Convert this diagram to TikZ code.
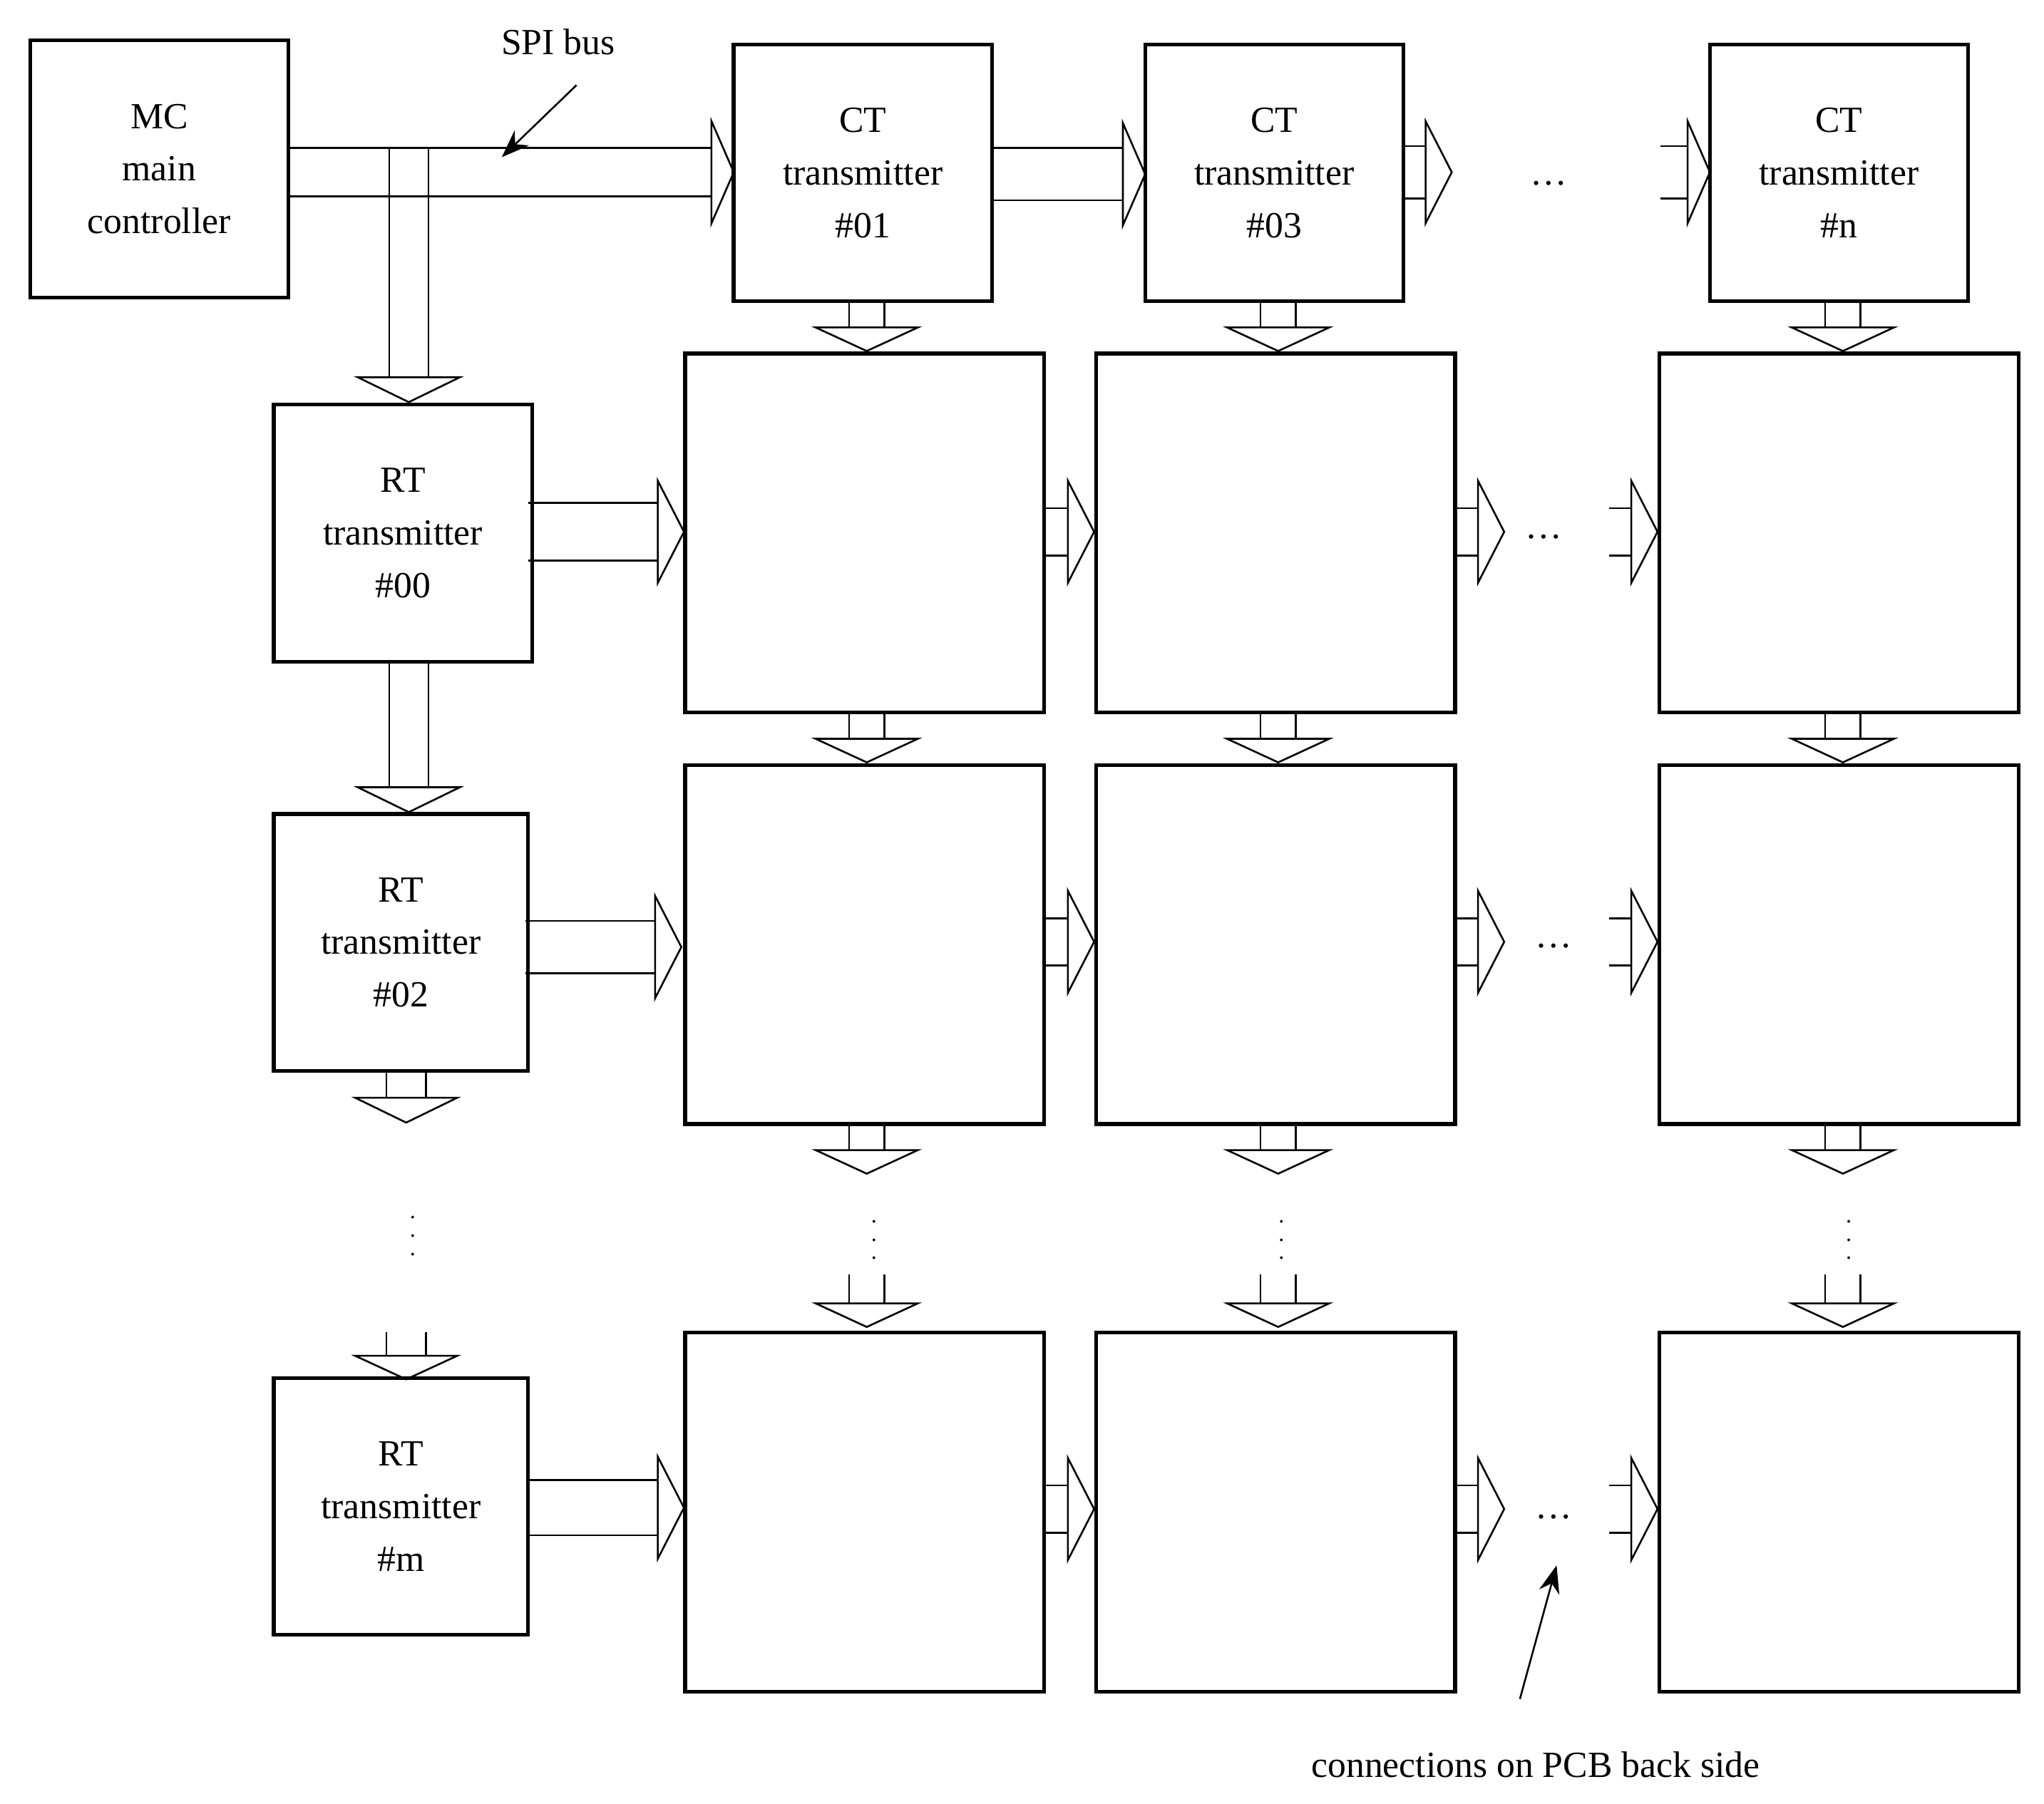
\documentclass[tikz,border=0pt]{standalone}
\usepackage{fontspec}
\setmainfont{Liberation Serif}
\usetikzlibrary{arrows.meta,positioning,calc}
% horizontal bus: lines from x1 to x2 at y+-d, open head from x2 to x3
\newcommand{\hbus}[5]{%
  \draw (#1,#4-#5) -- (#2,#4-#5) (#1,#4+#5) -- (#2,#4+#5);
  \draw (#2,#4-39) -- (#3,#4) -- (#2,#4+39) -- cycle;}
% vertical bus: lines from y1 to y2 at x+-d, open head from y2 to y3
\newcommand{\vbus}[5]{%
  \draw (#4-#5,#1) -- (#4-#5,#2) (#4+#5,#1) -- (#4+#5,#2);
  \draw (#4-39,#2) -- (#4,#3) -- (#4+39,#2) -- cycle;}
\begin{document}
\begin{tikzpicture}[x=0.01cm, y=-0.01cm,
    box/.style={draw, thick, minimum width=1.97cm, minimum height=1.96cm, font=\fontsize{8}{11.4}\selectfont, align=center},
    cell/.style={draw, thick, minimum width=2.74cm, minimum height=2.74cm},
    lbl/.style={font=\fontsize{8}{11}\selectfont},
    pointer/.style={-{Stealth[length=6pt]}}
]
    \useasboundingbox (0,0) rectangle (1560,1377);
    % controllers
    \node[box] (mc) at (121.5,129) {MC\\main\\controller};
    \node[box] (ct01) at (658.5,132) {CT\\transmitter\\\#01};
    \node[box] (ct03) at (972.5,132) {CT\\transmitter\\\#03};
    \node[box] (ctn) at (1403.5,132) {CT\\transmitter\\\#n};
    \node[box] (rt00) at (307.5,407) {RT\\transmitter\\\#00};
    \node[box, minimum width=1.94cm] (rt02) at (306,719.5) {RT\\transmitter\\\#02};
    \node[box, minimum width=1.94cm] (rtm) at (306,1150) {RT\\transmitter\\\#m};

    % grid of cells
    \foreach \x/\c in {660/a, 973.5/b, 1403.5/c}
      \foreach \y/\r in {407/1, 721/2, 1154.5/3}
        \node[cell] (cell\c\r) at (\x,\y) {};

    % SPI bus
    \hbus{221}{543}{560}{131.5}{18.5}
    \vbus{113}{288}{307}{312}{15}
    \node[lbl] (spi) at (426,32) {SPI bus};
    \coordinate (spit) at (440,65);
    \coordinate (spih) at (383,120);
    \draw[pointer] (spit) -- (spih);

    % CT chain
    \hbus{757}{857}{874}{133}{20}
    \hbus{1071}{1088}{1108}{131.5}{20}
    \hbus{1267}{1288}{1305}{131.5}{20}
    \node[lbl] (dct) at (1182,140) {\dots};
    \foreach \x in {661.5, 975.5, 1406.5}
      \vbus{230}{250}{268}{\x}{13.5};

    % RT chain
    \vbus{504}{601}{620}{312}{15}
    \vbus{818}{838}{857}{310}{15}
    \node[lbl, font=\tiny] (drt) at (315,933) {$\vdots$};
    \vbus{1017}{1035}{1053}{310}{15}

    % row links
    \hbus{403}{502}{522}{406}{22}
    \hbus{401}{500}{520}{723}{20}
    \hbus{403}{502}{522}{1151}{21}
    \foreach \y in {406, 719, 1152} {
      \hbus{797}{815}{835}{\y}{18}
      \hbus{1111}{1128}{1148}{\y}{18}
      \hbus{1228}{1245}{1265}{\y}{18}
    }
    \node[lbl] (d1) at (1178,410) {\dots};
    \node[lbl] (d2) at (1186,722) {\dots};
    \node[lbl] (d3) at (1186,1158) {\dots};

    % column links
    \foreach \x in {661.5, 975.5, 1406.5} {
      \vbus{544}{564}{582}{\x}{13.5}
      \vbus{858}{878}{896}{\x}{13.5}
      \vbus{973}{995}{1013}{\x}{13.5}
    }
    \foreach \x in {667, 978, 1411}
      \node[lbl, font=\tiny] at (\x,936) {$\vdots$};

    % back side note
    \node[lbl] (pcb) at (1172,1347) {connections on PCB back side};
    \coordinate (pcbt) at (1160,1297);
    \coordinate (pcbh) at (1188,1195);
    \draw[pointer] (pcbt) -- (pcbh);
\end{tikzpicture}
\end{document}
